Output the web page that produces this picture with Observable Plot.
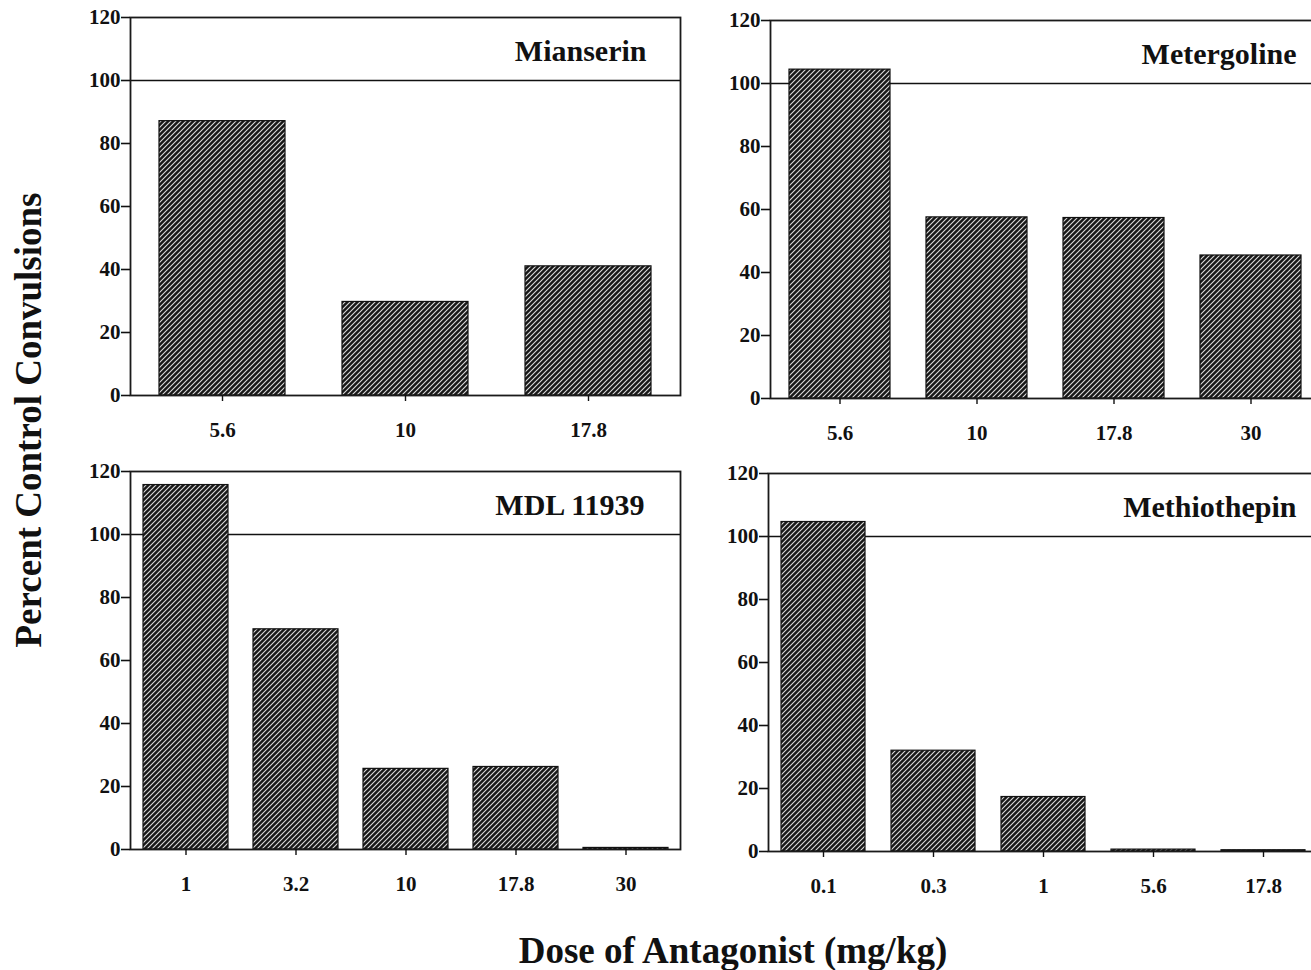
<!DOCTYPE html>
<html>
<head>
<meta charset="utf-8">
<script src="https://cdn.jsdelivr.net/npm/d3@7"></script>
<script src="https://cdn.jsdelivr.net/npm/@observablehq/plot@0.6"></script>
<style>
  html, body { margin: 0; padding: 0; background: white; }
  #root { position: relative; width: 1311px; height: 970px; overflow: hidden; background: white; }
  .panel { position: absolute; }
  .axtitle { position: absolute; font-family: 'Liberation Serif', 'Times New Roman', serif; font-weight: bold; font-size: 37px; color: #111; white-space: nowrap; }
  .panel g[aria-label="y-axis tick label"] text, .panel g[aria-label="x-axis tick label"] text { font-size: 21px !important; font-weight: bold !important; }
</style>
</head>
<body>
<div id="root">
  <svg width="0" height="0" style="position:absolute">
    <defs>
      <pattern id="hatch" patternUnits="userSpaceOnUse" width="5" height="5">
        <rect width="5" height="5" fill="#181818"></rect>
        <path d="M-1,1 l2,-2 M0,5 l5,-5 M4,6 l2,-2" stroke="#dcdcdc" stroke-width="1.1"></path>
      </pattern>
    </defs>
  </svg>
  <div class="axtitle" id="ytitle">Percent Control Convulsions</div>
  <div class="axtitle" id="xtitle">Dose of Antagonist (mg/kg)</div>
</div>
<script>
// ---- data ----
const panelNames = ["Mianserin", "Metergoline", "MDL 11939", "Methiothepin"];
const mianserinDoses = ["5.6", "10", "17.8"];
const mianserinValues = [87.1, 29.7, 41.0];
const metergolineDoses = ["5.6", "10", "17.8", "30"];
const metergolineValues = [104.4, 57.5, 57.3, 45.4];
const mdlDoses = ["1", "3.2", "10", "17.8", "30"];
const mdlValues = [115.7, 69.9, 25.6, 26.2, 0.5];
const methiothepinDoses = ["0.1", "0.3", "1", "5.6", "17.8"];
const methiothepinValues = [104.6, 32.0, 17.3, 0.6, 0.4];
const yTicks = [0, 20, 40, 60, 80, 100, 120];
const referenceLevel = [100];

const FONT = "'Liberation Serif', 'Times New Roman', serif";

function panel(doses, values, name, opts) {
  const data = doses.map((d, i) => ({dose: d, value: values[i]}));
  const p = opts.padding;
  const svg = Plot.plot({
    width: 50 + 550 + 10,
    height: 10 + 378 + 50,
    marginLeft: 50, marginRight: 10, marginTop: 10, marginBottom: 50,
    style: {fontFamily: FONT, fontWeight: "bold", fontSize: "21px", color: "#111", background: "transparent", overflow: "visible"},
    x: {domain: doses, paddingInner: p, paddingOuter: p / 2, axis: null, label: null},
    y: {domain: [0, 120], axis: null, label: null},
    marks: [
      Plot.ruleY(referenceLevel, {stroke: "#111", strokeWidth: 1.7}),
      Plot.barY(data, {x: "dose", y: "value", fill: "url(#hatch)", stroke: "#111", strokeWidth: 1.2}),
      Plot.frame({stroke: "#1a1a1a", strokeWidth: 1.8}),
      Plot.axisY(yTicks, {tickSize: 9, tickPadding: 1, label: null, fontSize: 21, strokeWidth: 1.6}),
      Plot.axisX({tickSize: 6, tickPadding: 21, label: null, fontSize: 21, strokeWidth: 1.4}),
      Plot.text([name], {frameAnchor: "top-right", dx: opts.titleDx, dy: 22, fontSize: 30, fontWeight: "bold", fill: "#111"})
    ]
  });
  svg.classList.add("panel");
  svg.style.left = opts.left + "px";
  svg.style.top = opts.top + "px";
  return svg;
}

const root = document.getElementById("root");
root.appendChild(panel(mianserinDoses, mianserinValues, panelNames[0], {padding: 0.31, titleDx: -34, left: 80, top: 7}));
root.appendChild(panel(metergolineDoses, metergolineValues, panelNames[1], {padding: 0.26, titleDx: -24, left: 720, top: 10}));
root.appendChild(panel(mdlDoses, mdlValues, panelNames[2], {padding: 0.23, titleDx: -36, left: 80, top: 461}));
root.appendChild(panel(methiothepinDoses, methiothepinValues, panelNames[3], {padding: 0.24, titleDx: -22, left: 718, top: 463}));

const yt = document.getElementById("ytitle");
yt.style.left = "28px"; yt.style.top = "420px";
yt.style.transform = "translate(-50%, -50%) rotate(-90deg)";
const xt = document.getElementById("xtitle");
xt.style.left = "733px"; xt.style.top = "950px";
xt.style.transform = "translate(-50%, -50%)";
</script>
</body>
</html>
